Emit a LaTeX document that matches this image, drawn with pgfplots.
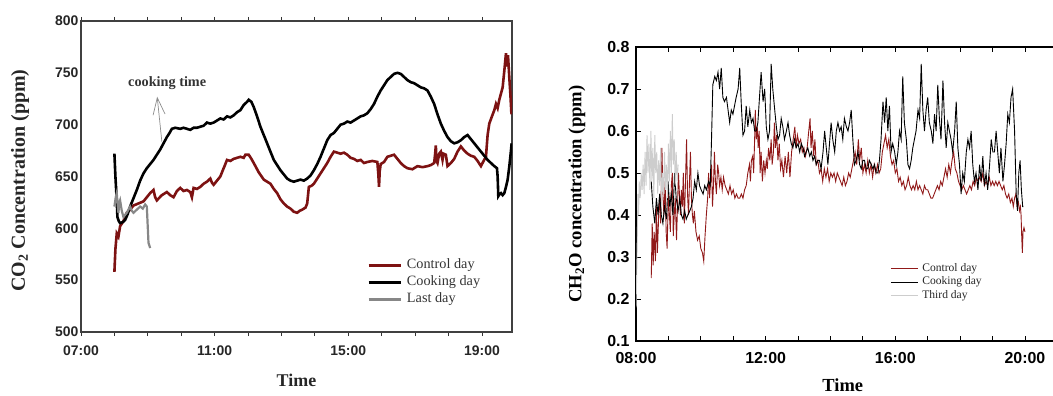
\documentclass[border=0pt]{standalone}
\usepackage{fontspec}
\setmainfont{Liberation Serif}
\newfontfamily\arial{Liberation Sans}
\usepackage{pgfplots}
\pgfplotsset{compat=1.18}
\usetikzlibrary{arrows.meta}
\definecolor{ctrlred}{RGB}{125,18,18}
\definecolor{ctrlred2}{RGB}{145,25,25}
\definecolor{lastgray}{RGB}{135,135,135}
\definecolor{thirdgray}{RGB}{205,205,205}
\begin{document}
\begin{tikzpicture}
% ---------------- Left: CO2 ----------------
\begin{axis}[
  at={(81bp,64bp)}, anchor=south west,
  scale only axis, width=431bp, height=311bp,
  xmin=7, xmax=19.9, ymin=500, ymax=800,
  xtick={7,11,15,19}, xticklabels={07:00,11:00,15:00,19:00},
  minor xtick={8,9,10,12,13,14,16,17,18},
  ytick={500,550,600,650,700,750,800},
  yticklabels={500,550,600,650,700,750,800},
  tick align=outside,
  major tick length=4bp, minor tick length=4bp,
  ytick style={draw=none},
  every tick/.style={black!80, line width=0.8bp},
  axis line style={draw=black!75, line width=1.1bp},
  tick label style={font=\arial\bfseries\fontsize{14}{16}\selectfont, text=black!85},
  yticklabel style={xshift=5bp},
  xticklabel style={yshift=-6bp},
  xlabel={Time},
  xlabel style={at={(axis description cs:0.5,-0.154)}, anchor=center, font=\bfseries\fontsize{18}{20}\selectfont, text=black!85},
  ylabel={CO\textsubscript{2} Concentration (ppm)},
  ylabel style={at={(axis description cs:-0.1415,0.487)}, anchor=center, rotate=0, font=\bfseries\fontsize{20}{22}\selectfont, text=black!85},
  legend style={draw=none, fill=none, at={(axis description cs:0.664,0.242)}, anchor=north west,
     inner sep=0pt, column sep=4bp, row sep=0pt, font=\fontsize{14.3}{16}\selectfont,
     nodes={inner sep=1bp, text height=10.5bp, text depth=4.5bp, text=black!80}},
  legend cell align=left,
  legend image code/.code={\draw[#1] (0bp,0bp) -- (32bp,0bp);},
]
\addplot[ctrlred, line width=2.6bp] coordinates {
(8.00,558)(8.03,580)(8.07,595)(8.12,592)(8.17,602)(8.27,607)(8.37,615)(8.47,618)(8.57,622)(8.72,624)(8.87,626)(8.97,630)(9.07,634)(9.17,637)(9.22,630)(9.27,627)(9.42,632)(9.57,635)(9.67,632)(9.77,630)(9.87,636)(9.97,639)(10.07,636)(10.17,637)(10.27,635)(10.32,630)(10.37,639)(10.47,638)(10.57,640)(10.67,643)(10.77,645)(10.87,648)(10.92,644)(10.97,642)(11.07,646)(11.17,650)(11.27,658)(11.37,666)(11.47,665)(11.57,667)(11.67,668)(11.77,669)(11.87,668)(11.92,671)(12.02,671)(12.10,667)(12.17,663)(12.32,654)(12.47,647)(12.57,645)(12.67,643)(12.77,638)(12.87,634)(12.97,628)(13.07,624)(13.17,621)(13.27,619)(13.37,616)(13.47,615)(13.55,617)(13.62,618)(13.72,620)(13.77,624)(13.82,640)(13.90,641)(13.97,643)(14.07,648)(14.17,653)(14.27,658)(14.37,663)(14.47,669)(14.57,674)(14.67,673)(14.77,672)(14.87,673)(14.97,671)(15.07,668)(15.17,667)(15.27,665)(15.37,666)(15.47,663)(15.57,664)(15.72,665)(15.87,664)(15.90,652)(15.92,640)(15.94,655)(15.97,662)(16.07,664)(16.17,669)(16.27,670)(16.37,671)(16.47,667)(16.57,663)(16.67,660)(16.77,658)(16.92,657)(17.07,660)(17.22,659)(17.37,660)(17.47,661)(17.57,663)(17.60,672)(17.62,680)(17.64,665)(17.67,663)(17.72,672)(17.77,674)(17.82,666)(17.85,672)(17.92,671)(17.97,660)(18.07,663)(18.17,667)(18.27,674)(18.37,679)(18.47,675)(18.57,672)(18.67,670)(18.77,669)(18.87,665)(18.97,660)(19.05,665)(19.12,669)(19.17,690)(19.22,701)(19.30,708)(19.37,714)(19.42,720)(19.47,716)(19.52,724)(19.57,730)(19.62,736)(19.67,752)(19.72,769)(19.75,756)(19.78,767)(19.82,745)(19.85,730)(19.88,712)(19.89,710)
};
\addlegendentry{Control day}
\addplot[black, line width=2.6bp] coordinates {
(8.00,672)(8.03,650)(8.07,627)(8.09,611)(8.13,607)(8.17,605)(8.25,606)(8.32,608)(8.40,614)(8.47,621)(8.57,629)(8.67,637)(8.77,646)(8.87,653)(8.97,658)(9.07,662)(9.17,666)(9.27,671)(9.37,676)(9.47,682)(9.57,688)(9.65,692)(9.72,696)(9.82,697)(9.97,696)(10.07,697)(10.17,696)(10.27,695)(10.37,697)(10.47,697)(10.57,698)(10.67,699)(10.77,702)(10.87,701)(10.97,702)(11.07,704)(11.17,706)(11.27,705)(11.37,708)(11.47,707)(11.57,709)(11.67,712)(11.77,714)(11.87,719)(11.97,722)(12.02,724)(12.10,722)(12.17,717)(12.27,708)(12.37,698)(12.47,690)(12.57,682)(12.67,674)(12.77,666)(12.87,661)(12.97,656)(13.07,652)(13.17,648)(13.27,646)(13.37,645)(13.47,646)(13.57,647)(13.67,646)(13.77,648)(13.87,651)(13.97,656)(14.07,662)(14.17,669)(14.27,677)(14.37,685)(14.47,690)(14.57,692)(14.67,696)(14.77,700)(14.87,701)(14.97,703)(15.07,702)(15.17,704)(15.27,706)(15.37,708)(15.47,709)(15.57,711)(15.67,715)(15.77,720)(15.87,727)(15.97,733)(16.07,738)(16.17,743)(16.27,746)(16.37,749)(16.47,750)(16.57,749)(16.67,746)(16.77,743)(16.87,741)(16.97,740)(17.07,738)(17.17,736)(17.27,735)(17.37,733)(17.47,727)(17.57,720)(17.67,710)(17.77,701)(17.87,694)(17.97,688)(18.07,684)(18.17,682)(18.27,683)(18.37,685)(18.47,688)(18.57,690)(18.67,686)(18.77,682)(18.87,678)(18.97,674)(19.07,670)(19.17,666)(19.27,663)(19.37,660)(19.45,658)(19.47,650)(19.49,631)(19.53,633)(19.57,634)(19.62,632)(19.67,634)(19.72,640)(19.77,647)(19.82,660)(19.85,669)(19.89,682)
};
\addlegendentry{Cooking day}
\addplot[lastgray, line width=2.2bp] coordinates {
(8.00,621)(8.04,630)(8.07,634)(8.10,622)(8.12,615)(8.15,625)(8.17,627)(8.22,617)(8.27,611)(8.32,613)(8.37,615)(8.42,618)(8.47,621)(8.52,617)(8.57,615)(8.67,618)(8.77,621)(8.85,619)(8.92,623)(8.97,621)(9.00,600)(9.02,586)(9.07,581)
};
\addlegendentry{Last day}
\node[font=\bfseries\fontsize{14.3}{16}\selectfont, text=black!80] at (axis cs:9.58,740) {cooking time};
\draw[black!45, line width=0.7bp, -{Straight Barb[length=17bp,width=12bp]}] (axis cs:9.42,683.6) -- (axis cs:9.28,727);
\end{axis}
% ---------------- Right: CH2O ----------------
\begin{axis}[
  at={(636bp,55bp)}, anchor=south west,
  scale only axis, width=422bp, height=294bp,
  xmin=8, xmax=21.02, ymin=0.1, ymax=0.8,
  xtick={8,12,16,20}, xticklabels={08:00,12:00,16:00,20:00},
  minor xtick={9,10,11,13,14,15,17,18,19},
  ytick={0.1,0.2,0.3,0.4,0.5,0.6,0.7,0.8},
  yticklabels={0.1,0.2,0.3,0.4,0.5,0.6,0.7,0.8},
  tick align=inside,
  major tick length=5bp, minor tick length=5bp,
  every tick/.style={black, line width=0.8bp},
  axis line style={draw=black, line width=1.1bp},
  tick label style={font=\arial\bfseries\fontsize{16}{18}\selectfont},
  yticklabel style={xshift=-3bp},
  xticklabel style={yshift=-8bp},
  xlabel={Time},
  xlabel style={at={(axis description cs:0.49,-0.127)}, anchor=north, inner sep=0pt, font=\bfseries\fontsize{18.5}{20}\selectfont},
  ylabel={CH\textsubscript{2}O concentration (ppm)},
  ylabel style={at={(axis description cs:-0.14,0.5)}, anchor=center, font=\bfseries\fontsize{18.7}{21}\selectfont},
  legend style={draw=none, fill=none, at={(axis description cs:0.602,0.27)}, anchor=north west,
     inner sep=0pt, column sep=3bp, row sep=0pt, font=\fontsize{11.6}{13}\selectfont,
     nodes={inner sep=1bp, text height=8.5bp, text depth=3bp, text=black!85}},
  legend cell align=left,
  legend image code/.code={\draw[#1, line width=1.1bp] (0bp,0bp) -- (27bp,0bp);},
]
\addplot[ctrlred2, line width=0.9bp] coordinates {
(8.47,.25)(8.50,.38)(8.53,.28)(8.56,.36)(8.60,.29)(8.63,.42)(8.66,.31)(8.70,.40)(8.73,.45)(8.76,.38)(8.80,.56)(8.83,.45)(8.86,.40)(8.90,.48)(8.93,.36)(8.96,.32)(9.00,.45)(9.03,.40)(9.06,.36)(9.09,.47)(9.12,.50)(9.15,.35)(9.18,.40)(9.21,.44)(9.25,.34)(9.28,.42)(9.31,.50)(9.34,.45)(9.37,.40)(9.40,.46)(9.43,.42)(9.46,.50)(9.49,.38)(9.52,.46)(9.56,.58)(9.59,.45)(9.62,.40)(9.65,.48)(9.68,.55)(9.71,.44)(9.74,.40)(9.77,.38)(9.80,.41)(9.85,.36)(9.90,.34)(9.95,.35)(10.00,.32)(10.05,.31)(10.09,.29)(10.13,.35)(10.17,.40)(10.21,.44)(10.24,.50)(10.27,.44)(10.30,.48)(10.33,.52)(10.36,.42)(10.39,.47)(10.42,.55)(10.45,.48)(10.48,.45)(10.52,.52)(10.55,.50)(10.58,.47)(10.62,.49)(10.66,.46)(10.70,.49)(10.75,.47)(10.80,.46)(10.85,.45)(10.90,.47)(10.95,.45)(11.00,.46)(11.05,.44)(11.10,.45)(11.15,.44)(11.20,.44)(11.25,.45)(11.30,.44)(11.35,.46)(11.40,.47)(11.45,.50)(11.50,.52)(11.53,.48)(11.56,.53)(11.60,.54)(11.63,.50)(11.66,.58)(11.68,.65)(11.71,.58)(11.74,.61)(11.77,.56)(11.80,.60)(11.83,.50)(11.86,.55)(11.90,.48)(11.94,.53)(11.98,.50)(12.02,.53)(12.05,.51)(12.09,.56)(12.13,.53)(12.17,.58)(12.20,.52)(12.24,.55)(12.27,.62)(12.30,.56)(12.34,.59)(12.38,.53)(12.42,.57)(12.46,.51)(12.50,.53)(12.55,.49)(12.60,.54)(12.65,.50)(12.70,.55)(12.75,.49)(12.80,.55)(12.85,.58)(12.90,.61)(12.94,.56)(12.98,.59)(13.03,.57)(13.08,.58)(13.13,.55)(13.18,.56)(13.23,.54)(13.28,.56)(13.33,.60)(13.37,.63)(13.40,.56)(13.44,.60)(13.48,.54)(13.52,.58)(13.56,.52)(13.61,.53)(13.66,.50)(13.71,.51)(13.76,.48)(13.81,.51)(13.86,.49)(13.91,.51)(13.96,.48)(14.01,.50)(14.06,.49)(14.11,.50)(14.16,.48)(14.21,.50)(14.26,.49)(14.31,.48)(14.36,.47)(14.41,.49)(14.46,.47)(14.51,.48)(14.56,.50)(14.61,.49)(14.66,.51)(14.71,.53)(14.76,.55)(14.81,.52)(14.86,.58)(14.90,.53)(14.95,.56)(15.00,.50)(15.05,.52)(15.10,.50)(15.15,.53)(15.20,.50)(15.25,.52)(15.30,.49)(15.35,.52)(15.40,.50)(15.45,.52)(15.50,.50)(15.55,.51)(15.60,.55)(15.65,.57)(15.70,.59)(15.75,.56)(15.80,.58)(15.85,.54)(15.90,.52)(15.95,.53)(16.00,.50)(16.05,.51)(16.10,.48)(16.15,.49)(16.20,.47)(16.25,.48)(16.30,.46)(16.35,.47)(16.40,.49)(16.45,.47)(16.50,.46)(16.55,.47)(16.60,.46)(16.65,.48)(16.70,.46)(16.75,.47)(16.80,.46)(16.85,.45)(16.90,.47)(16.95,.46)(17.00,.46)(17.05,.45)(17.10,.44)(17.15,.44)(17.20,.45)(17.25,.46)(17.30,.47)(17.35,.46)(17.40,.48)(17.45,.47)(17.50,.49)(17.55,.51)(17.60,.49)(17.65,.52)(17.70,.50)(17.75,.53)(17.80,.55)(17.85,.51)(17.90,.50)(17.95,.48)(18.00,.47)(18.05,.46)(18.10,.47)(18.15,.46)(18.20,.45)(18.25,.46)(18.30,.47)(18.35,.46)(18.40,.48)(18.45,.47)(18.50,.49)(18.55,.48)(18.60,.49)(18.65,.48)(18.70,.50)(18.75,.47)(18.80,.48)(18.85,.47)(18.90,.49)(18.95,.47)(19.00,.48)(19.05,.47)(19.10,.48)(19.15,.47)(19.20,.48)(19.25,.47)(19.30,.46)(19.35,.47)(19.40,.45)(19.45,.44)(19.50,.45)(19.55,.43)(19.60,.44)(19.64,.42)(19.68,.44)(19.72,.45)(19.76,.42)(19.80,.43)(19.83,.41)(19.86,.42)(19.88,.40)(19.90,.35)(19.92,.31)(19.94,.36)(19.97,.37)(20.00,.36)
};
\addlegendentry{Control day}
\addplot[black, line width=0.9bp] coordinates {
(8.47,.48)(8.52,.42)(8.58,.38)(8.63,.44)(8.68,.40)(8.73,.45)(8.78,.40)(8.83,.38)(8.88,.42)(8.94,.39)(8.99,.48)(9.04,.42)(9.09,.45)(9.14,.40)(9.19,.50)(9.24,.44)(9.30,.41)(9.35,.44)(9.40,.40)(9.45,.39)(9.50,.41)(9.55,.39)(9.60,.40)(9.66,.41)(9.71,.42)(9.76,.44)(9.81,.48)(9.86,.46)(9.91,.50)(9.96,.47)(10.01,.46)(10.07,.45)(10.12,.47)(10.17,.46)(10.24,.48)(10.29,.47)(10.33,.58)(10.37,.71)(10.43,.73)(10.48,.72)(10.53,.74)(10.58,.70)(10.63,.75)(10.68,.68)(10.73,.67)(10.79,.68)(10.84,.65)(10.89,.62)(10.94,.65)(10.99,.64)(11.04,.66)(11.09,.68)(11.15,.70)(11.20,.75)(11.25,.66)(11.30,.59)(11.35,.60)(11.40,.66)(11.45,.61)(11.51,.65)(11.56,.62)(11.61,.63)(11.66,.60)(11.71,.60)(11.76,.62)(11.81,.68)(11.86,.74)(11.92,.67)(11.97,.70)(12.02,.61)(12.07,.58)(12.12,.60)(12.17,.76)(12.22,.70)(12.28,.65)(12.33,.61)(12.38,.58)(12.43,.59)(12.48,.63)(12.53,.61)(12.58,.58)(12.64,.60)(12.69,.62)(12.74,.59)(12.79,.57)(12.84,.56)(12.89,.58)(12.94,.56)(13.00,.57)(13.05,.55)(13.10,.57)(13.15,.56)(13.20,.54)(13.25,.55)(13.30,.56)(13.36,.54)(13.41,.55)(13.46,.53)(13.51,.54)(13.56,.52)(13.61,.53)(13.66,.53)(13.71,.51)(13.77,.55)(13.82,.60)(13.87,.56)(13.92,.52)(13.97,.57)(14.02,.62)(14.07,.58)(14.13,.55)(14.18,.60)(14.23,.62)(14.28,.60)(14.33,.61)(14.38,.58)(14.43,.63)(14.49,.61)(14.54,.60)(14.59,.62)(14.64,.65)(14.69,.58)(14.74,.52)(14.79,.53)(14.85,.55)(14.90,.52)(14.95,.51)(15.00,.53)(15.05,.53)(15.10,.51)(15.15,.51)(15.20,.53)(15.26,.52)(15.31,.51)(15.36,.52)(15.41,.50)(15.46,.50)(15.51,.53)(15.56,.58)(15.62,.67)(15.67,.62)(15.72,.68)(15.77,.60)(15.82,.66)(15.87,.55)(15.92,.57)(15.98,.55)(16.03,.52)(16.08,.55)(16.13,.60)(16.18,.58)(16.23,.73)(16.28,.62)(16.34,.58)(16.39,.52)(16.44,.51)(16.49,.53)(16.54,.56)(16.59,.58)(16.64,.60)(16.70,.65)(16.75,.63)(16.80,.76)(16.85,.65)(16.90,.60)(16.95,.65)(17.00,.68)(17.05,.62)(17.11,.60)(17.16,.57)(17.21,.64)(17.26,.60)(17.31,.71)(17.36,.63)(17.41,.58)(17.47,.72)(17.52,.62)(17.57,.56)(17.62,.62)(17.67,.60)(17.72,.58)(17.77,.55)(17.83,.60)(17.88,.67)(17.93,.56)(17.98,.52)(18.03,.45)(18.08,.50)(18.13,.48)(18.19,.55)(18.24,.58)(18.29,.56)(18.34,.60)(18.39,.52)(18.44,.48)(18.49,.50)(18.55,.46)(18.60,.52)(18.65,.48)(18.70,.54)(18.75,.47)(18.80,.50)(18.85,.46)(18.91,.52)(18.96,.58)(19.01,.55)(19.06,.55)(19.11,.60)(19.16,.55)(19.21,.50)(19.26,.56)(19.32,.48)(19.37,.52)(19.42,.57)(19.47,.64)(19.52,.62)(19.57,.68)(19.62,.70)(19.68,.60)(19.73,.45)(19.77,.41)(19.81,.50)(19.85,.53)(19.89,.46)(19.93,.42)(19.95,.42)
};
\addlegendentry{Cooking day}
\addplot[thirdgray, line width=0.9bp] coordinates {
(8.00,.18)(8.02,.25)(8.04,.35)(8.06,.45)(8.08,.40)(8.10,.48)(8.13,.44)(8.16,.50)(8.19,.46)(8.22,.52)(8.25,.45)(8.28,.55)(8.31,.47)(8.34,.59)(8.37,.50)(8.40,.57)(8.43,.46)(8.46,.60)(8.49,.48)(8.52,.56)(8.55,.44)(8.58,.59)(8.61,.50)(8.64,.55)(8.67,.45)(8.70,.53)(8.73,.47)(8.76,.56)(8.79,.42)(8.82,.50)(8.85,.45)(8.88,.55)(8.91,.46)(8.94,.52)(8.97,.44)(9.00,.57)(9.03,.48)(9.06,.60)(9.09,.50)(9.12,.64)(9.15,.52)(9.18,.58)(9.21,.47)(9.24,.55)(9.27,.48)(9.30,.52)
};
\addlegendentry{Third day}
\end{axis}
\pgfresetboundingbox
\useasboundingbox (0,0) rectangle (1053bp,396bp);
\end{tikzpicture}
\end{document}
